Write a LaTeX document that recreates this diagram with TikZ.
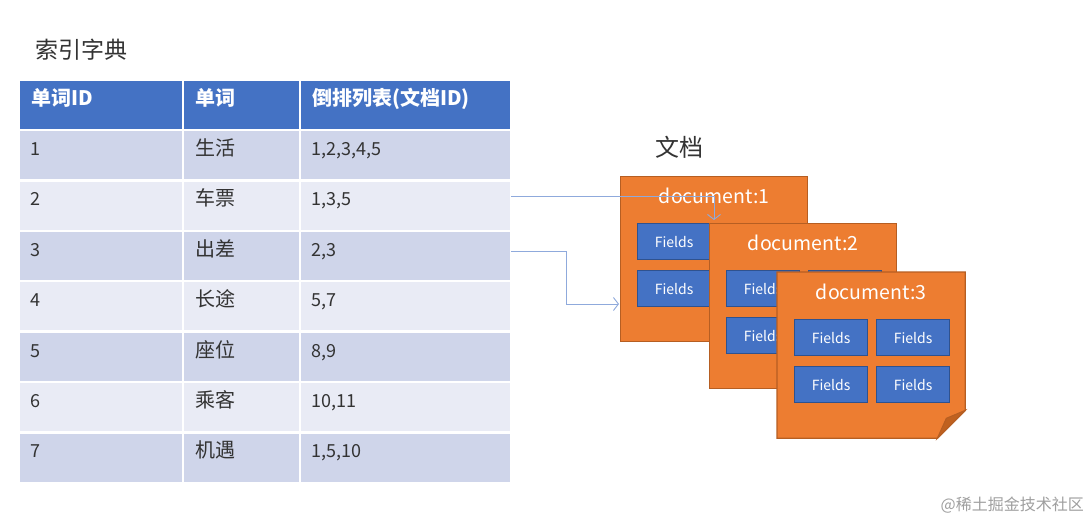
\documentclass[tikz,border=0pt]{standalone}
\usepackage{fontspec}
\setmainfont{Noto Sans CJK SC}
\usetikzlibrary{positioning,arrows.meta,calc}
\definecolor{hdrblue}{HTML}{4472C4}
\definecolor{rowdark}{HTML}{CFD5EA}
\definecolor{rowlight}{HTML}{E9EBF5}
\definecolor{docorange}{HTML}{ED7D31}
\definecolor{docedge}{HTML}{B65E22}
\definecolor{foldorange}{HTML}{C0611F}
\definecolor{fieldedge}{HTML}{2F528F}
\definecolor{linkblue}{HTML}{8FAADC}

\begin{document}
\begin{tikzpicture}[x=1pt,y=-1pt,
  cell/.style={draw=white,line width=2.5pt,anchor=north west,inner sep=0pt,outer sep=0pt},
  celltext/.style={anchor=west,inner sep=0pt,text height=13pt,text depth=2pt,font=\fontsize{18}{20}\selectfont,text=black!80},
  wordtext/.style={celltext,font=\fontsize{20}{22}\selectfont},
  hdrtext/.style={celltext,text=white,font=\fontsize{20}{22}\selectfont\bfseries},
  docsheet/.style={draw=docedge,fill=docorange,line width=1.3pt,anchor=north west,minimum width=187pt,minimum height=165pt,inner sep=0pt},
  doctitle/.style={text=white,font=\fontsize{19.5}{21}\selectfont,inner sep=0pt},
  field/.style={draw=fieldedge,fill=hdrblue,line width=1.2pt,anchor=north west,minimum width=73pt,minimum height=36pt,inner sep=0pt,text=white,font=\fontsize{14}{16}\selectfont},
  link/.style={draw=linkblue,line width=0.9pt,-{Straight Barb[length=5pt,width=13pt]}}]

\useasboundingbox (0,0) rectangle (1090,523);
\fill[white] (0,0) rectangle (1090,523);

% dictionary table
\node[anchor=west,inner sep=0pt,font=\fontsize{23}{25}\selectfont,text=black!80] (dicttitle) at (35,50) {索引字典};
\foreach \cx/\cw/\txt [count=\c] in {19/164/单词ID,183/117/单词,300/211/倒排列表(文档ID)} {
  \node[cell,fill=hdrblue,minimum width=\cw pt,minimum height=50pt] (h-\c) at (\cx,80) {};
  \node[hdrtext] at (\cx+12,100) {\txt};
}
\foreach \id/\word/\docs [count=\r] in {1/生活/{1,2,3,4,5},2/车票/{1,3,5},3/出差/{2,3},4/长途/{5,7},5/座位/{8,9},6/乘客/{10,11},7/机遇/{1,5,10}} {
  \pgfmathsetmacro\rtop{130+50.4*(\r-1)}
  \ifodd\r\def\rowcol{rowdark}\else\def\rowcol{rowlight}\fi
  \node[cell,fill=\rowcol,minimum width=164pt,minimum height=50.4pt] (r\r-1) at (19,\rtop) {};
  \node[cell,fill=\rowcol,minimum width=117pt,minimum height=50.4pt] (r\r-2) at (183,\rtop) {};
  \node[cell,fill=\rowcol,minimum width=211pt,minimum height=50.4pt] (r\r-3) at (300,\rtop) {};
  \node[celltext] at (30,\rtop+20) {\id};
  \node[wordtext] at (195,\rtop+20) {\word};
  \node[celltext] at (311,\rtop+20) {\docs};
}

% documents
\node[anchor=west,inner sep=0pt,font=\fontsize{24}{26}\selectfont,text=black!80] (docslabel) at (655,147) {文档};

\node[docsheet] (doc1) at (620,176) {};
\node[doctitle] (t1) at ($(doc1.north)+(0,20)$) {document:1};
\foreach \fx/\fy [count=\k] in {17/47,99/47,17/94,99/94}
  \node[field] (d1f\k) at ($(doc1.north west)+(\fx,\fy)$) {Fields};

\node[docsheet] (doc2) at (709,223) {};
\node[doctitle] (t2) at ($(doc2.north)+(0,20)$) {document:2};
\foreach \fx/\fy [count=\k] in {17/47,99/47,17/94,99/94}
  \node[field] (d2f\k) at ($(doc2.north west)+(\fx,\fy)$) {Fields};

\node[docsheet,draw=none,fill=none] (doc3) at (777,272) {};
\filldraw[draw=docedge,fill=docorange,line width=1.3pt] (doc3.north west) -- (doc3.north east)
  -- ($(doc3.south east)+(0,-28)$) -- ($(doc3.south east)+(-28,0)$) -- (doc3.south west) -- cycle;
\filldraw[draw=docedge,fill=foldorange,line width=1pt] ($(doc3.south east)+(0,-28)$)
  -- ($(doc3.south east)+(-19,-20)$) -- ($(doc3.south east)+(-28,0)$) -- cycle;
\node[doctitle] (t3) at ($(doc3.north)+(0,20)$) {document:3};
\foreach \fx/\fy [count=\k] in {17/47,99/47,17/94,99/94}
  \node[field] (d3f\k) at ($(doc3.north west)+(\fx,\fy)$) {Fields};

% links
\coordinate (hit1) at (714,220);
\coordinate (hit2) at (619,304);
\draw[link] ([yshift=9.6pt]r2-3.east) -| (hit1);
\draw[link] ([yshift=5pt]r3-3.east) -- ++(55,0) |- (hit2);

\node[anchor=east,inner sep=0pt,text=gray!75,font=\fontsize{16}{18}\selectfont] (mark) at (1084,505) {@稀土掘金技术社区};
\end{tikzpicture}
\end{document}
